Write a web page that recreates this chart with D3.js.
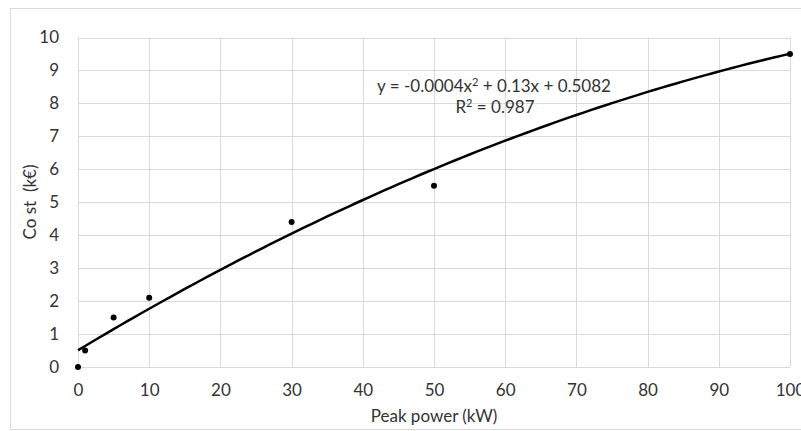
<!DOCTYPE html>
<html>
<head>
<meta charset="utf-8">
<script src="https://cdn.jsdelivr.net/npm/d3@7"></script>
<style>
  body { margin: 0; background: #fff; }
  text { font-family: Lato, "Open Sans", sans-serif; fill: #333; }
</style>
</head>
<body>
<div id="chart"></div>
<script>
// measured points
var power = [0, 1, 5, 10, 30, 50, 100];
var cost = [0, 0.5, 1.5, 2.1, 4.4, 5.5, 9.5];
// trend line coefficients as printed on the chart (a x^2 + b x + c)
var trendCoef = [-0.0004, 0.13, 0.5082];
var xTicks = [0, 10, 20, 30, 40, 50, 60, 70, 80, 90, 100];
var yTicks = [0, 1, 2, 3, 4, 5, 6, 7, 8, 9, 10];

var width = 801,
  height = 431,
  plotLeft = 78,
  plotRight = 790,
  plotTop = 37.5,
  plotBottom = 367;

var svg = d3.select('#chart')
            .append('svg')
            .attr('width', width)
            .attr('height', height);

// outer chart border
svg.append('rect')
   .attr('x', 10.5)
   .attr('y', 8.5)
   .attr('width', width + 10)
   .attr('height', 421)
   .attr('fill', 'none')
   .attr('stroke', '#d9d9d9');

var x = d3.scaleLinear().domain([0, 100]).range([plotLeft, plotRight]);
var y = d3.scaleLinear().domain([0, 10]).range([plotBottom, plotTop]);

// grid
svg.append('g')
   .selectAll('line')
   .data(xTicks)
   .enter()
   .append('line')
   .attr('x1', function(d) { return Math.round(x(d)) + 0.5; })
   .attr('x2', function(d) { return Math.round(x(d)) + 0.5; })
   .attr('y1', plotTop)
   .attr('y2', plotBottom)
   .attr('stroke', '#d9d9d9');

svg.append('g')
   .selectAll('line')
   .data(yTicks)
   .enter()
   .append('line')
   .attr('x1', plotLeft)
   .attr('x2', plotRight)
   .attr('y1', function(d) { return Math.round(y(d)) + 0.5; })
   .attr('y2', function(d) { return Math.round(y(d)) + 0.5; })
   .attr('stroke', '#d9d9d9');

// axes (labels only, Excel style)
var xAxis = svg.append('g')
   .attr('transform', 'translate(0,' + (plotBottom + 16) + ')')
   .call(d3.axisBottom(x).tickValues(xTicks).tickSize(0).tickPadding(0));
xAxis.select('.domain').remove();
xAxis.selectAll('text')
     .attr('font-size', 17)
     .attr('dy', '0.75em')
     .attr('font-family', 'Lato, sans-serif')
     .style('fill', '#333');

var yAxis = svg.append('g')
   .attr('transform', 'translate(' + (plotLeft - 19) + ',0)')
   .call(d3.axisLeft(y).tickValues(yTicks).tickSize(0).tickPadding(0));
yAxis.select('.domain').remove();
yAxis.selectAll('text')
     .attr('font-size', 17)
     .attr('font-family', 'Lato, sans-serif')
     .style('fill', '#333');

// trend line
var trendX = d3.range(0, 100.5, 1);
var line = d3.line()
  .x(function(d) { return x(d); })
  .y(function(d) { return y(trendCoef[0] * d * d + trendCoef[1] * d + trendCoef[2]); })
  .curve(d3.curveMonotoneX);

svg.append('path')
   .datum(trendX)
   .attr('d', line)
   .attr('fill', 'none')
   .attr('stroke', '#000')
   .attr('stroke-width', 2.5);

// points
svg.append('g')
   .selectAll('circle')
   .data(power)
   .enter()
   .append('circle')
   .attr('cx', function(d) { return x(d); })
   .attr('cy', function(d, i) { return y(cost[i]); })
   .attr('r', 3)
   .attr('fill', '#000');

// equation
var eq = svg.append('text')
   .attr('x', 494)
   .attr('y', 92)
   .attr('text-anchor', 'middle')
   .attr('font-size', 17);
eq.append('tspan').text('y = -0.0004x');
eq.append('tspan').text('2').attr('font-size', 11).attr('dy', -6);
eq.append('tspan').text(' + 0.13x + 0.5082').attr('dy', 6);

var r2 = svg.append('text')
   .attr('x', 495)
   .attr('y', 113)
   .attr('text-anchor', 'middle')
   .attr('font-size', 17);
r2.append('tspan').text('R');
r2.append('tspan').text('2').attr('font-size', 11).attr('dy', -6);
r2.append('tspan').text(' = 0.987').attr('dy', 6);

// axis titles
svg.append('text')
   .attr('x', 434)
   .attr('y', 422)
   .attr('text-anchor', 'middle')
   .attr('font-size', 17)
   .text('Peak power (kW)');

svg.append('text')
   .attr('transform', 'translate(36,202) rotate(-90)')
   .attr('text-anchor', 'middle')
   .attr('font-size', 17)
   .style('white-space', 'pre')
   .text('Co st  (k€)');
</script>
</body>
</html>
